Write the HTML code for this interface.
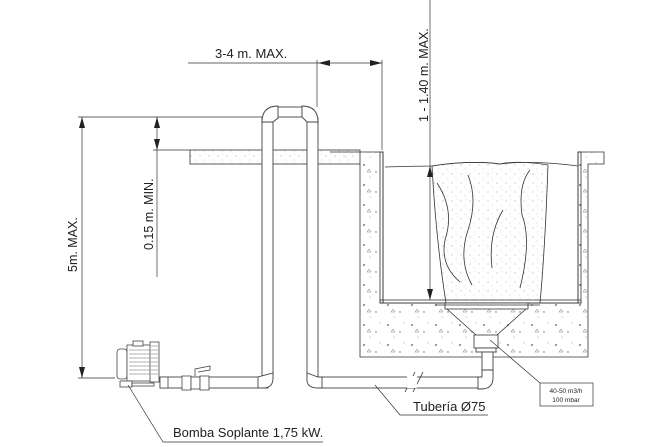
<!DOCTYPE html>
<html><head><meta charset="utf-8"><style>
html,body{margin:0;padding:0;background:#fff;}
svg{display:block;}
text{font-family:"Liberation Sans",sans-serif;fill:#222;}
</style></head><body>
<svg width="669" height="447" viewBox="0 0 669 447" xmlns="http://www.w3.org/2000/svg">
<defs>
<pattern id="dots" width="9" height="9" patternUnits="userSpaceOnUse">
<circle cx="2" cy="3" r="0.5" fill="#888"/><circle cx="6" cy="7" r="0.4" fill="#999"/><circle cx="7" cy="1" r="0.35" fill="#aaa"/>
</pattern>
<pattern id="conc" width="24" height="20" patternUnits="userSpaceOnUse">
<circle cx="4" cy="5" r="0.9" fill="#555"/><circle cx="16" cy="12" r="0.7" fill="#666"/><circle cx="10" cy="17" r="0.5" fill="#888"/><circle cx="20" cy="3" r="0.5" fill="#888"/><path d="M7 12 l2 -3 l2 3z" fill="none" stroke="#777" stroke-width="0.5"/>
</pattern>
</defs>
<g stroke="#333" stroke-width="0.8" fill="none">
<rect x="190" y="150" width="170" height="14" fill="url(#dots)"/>
<line x1="153" y1="150" x2="190" y2="150"/>
<path d="M360 164 L360 357 L588 357 L588 164 L604 164 L604 152 L578 152 L578 303 L383 303 L383 152 L330 152" fill="url(#conc)"/>
<rect x="380" y="152" width="3" height="151" fill="url(#dots)"/>
<rect x="578" y="152" width="3" height="151" fill="url(#dots)"/>
<rect x="380" y="300" width="201" height="3" fill="url(#dots)"/>
<path d="M385 167 Q420 166 432 166 Q470 160 500 164 Q530 160 578 166"/>
<path d="M432 166 Q436 240 446 303 L540 303 Q545 250 548 165 Q520 160 500 164 Q470 160 432 166Z" fill="url(#dots)"/>
<path d="M437 183 Q455 210 445 240 Q440 265 460 282"/>
<path d="M468 175 Q478 200 468 230 Q458 260 472 285"/>
<path d="M503 210 Q488 235 492 268"/>
<path d="M530 170 Q518 185 522 215 Q532 240 520 288"/>
<rect x="445" y="303" width="83" height="6" fill="#fff"/>
<line x1="435" y1="305" x2="540" y2="305"/>
<path d="M447 309 L476 335 M526 309 L497 335"/>
<rect x="474" y="335" width="24" height="13" fill="#fff"/>
<rect x="476" y="348" width="20" height="4" fill="#fff"/>
<g stroke="#444" stroke-width="0.9" fill="#fff">
<rect x="262" y="118" width="11" height="260"/>
<rect x="307" y="118" width="11" height="260"/>
<rect x="278" y="107" width="24" height="10"/>
<path d="M262 122 Q262 106 278 106 L278 118 L273 122Z"/>
<path d="M302 106 Q318 106 318 122 L307 122 L302 117Z"/>
<rect x="160" y="377" width="108" height="11"/>
<path d="M273 373 L273 378 Q273 388 263 388 L258 388 L258 377Z"/>
<rect x="320" y="377" width="163" height="11"/>
<path d="M307 373 L307 380 Q307 388 318 388 L322 388 L322 377 L318 377Z"/>
<rect x="482" y="352" width="11" height="22"/>
<path d="M493 370 L493 378 Q493 389 481 389 L478 389 L478 377 L482 377 L482 370Z"/>
</g>
<path d="M405 392 L415 372 M413 392 L423 372" stroke="#333"/>
<rect x="407" y="376" width="10" height="12" fill="#fff" stroke="none"/>
<g fill="#fff" stroke="#444" stroke-width="0.8">
<rect x="117" y="349" width="10" height="30" rx="3"/>
<rect x="127" y="345" width="25" height="36"/>
<rect x="150" y="342" width="9" height="40"/>
<rect x="133" y="341" width="10" height="5"/>
<rect x="120" y="381" width="12" height="6"/>
<rect x="132" y="383" width="22" height="3"/>
<rect x="160" y="377" width="8" height="11"/>
<rect x="182" y="376" width="9" height="14"/>
<rect x="191" y="377" width="9" height="12"/>
<rect x="200" y="376" width="9" height="14"/>
<path d="M195 376 L195 369 L210 366 L210 370 L198 372"/>
</g>
<g stroke="#666" stroke-width="0.5">
<path d="M129 350h21M129 354h21M129 358h21M129 362h21M129 366h21M129 370h21M129 374h21M151 346h7M151 350h7M151 354h7M151 358h7M151 362h7M151 366h7M151 370h7M151 374h7"/>
</g>
<g stroke="#333" stroke-width="0.7">
<line x1="188" y1="63" x2="382" y2="63"/>
<line x1="382" y1="60" x2="382" y2="150"/>
<line x1="317" y1="60" x2="317" y2="107"/>
<line x1="78" y1="117" x2="262" y2="117"/>
<line x1="78" y1="378" x2="115" y2="378"/>
<line x1="82" y1="117" x2="82" y2="378"/>
<line x1="157" y1="117" x2="157" y2="277"/>
<line x1="430" y1="0" x2="430" y2="300"/>
<path d="M128 385 L163 442 L323 442"/>
<path d="M375 385 L400 415 L488 415"/>
<path d="M490 340 L540 383"/>
<rect x="540" y="383" width="53" height="23" fill="#fff"/>
</g>
</g>
<g fill="#222">
<path d="M318 63 l12 -3 v6z"/>
<path d="M382 63 l-12 -3 v6z"/>
<path d="M82 117 l-3 11 h6z"/>
<path d="M82 378 l-3 -11 h6z"/>
<path d="M157 117 l-3 11 h6z"/>
<path d="M157 150 l-3 -11 h6z"/>
<path d="M430 166 l-3 11 h6z"/>
<path d="M430 300 l-3 -11 h6z"/>
</g>
<text x="215" y="58" font-size="13">3-4 m. MAX.</text>
<text transform="translate(428,122) rotate(-90)" font-size="12.5">1 - 1.40 m. MAX.</text>
<text transform="translate(153,250) rotate(-90)" font-size="12.5">0.15 m. MIN.</text>
<text transform="translate(77,272) rotate(-90)" font-size="12.5">5m. MAX.</text>
<text x="173" y="437" font-size="13">Bomba Soplante 1,75 kW.</text>
<text x="413" y="411" font-size="13">Tubería Ø75</text>
<text x="566" y="393" font-size="6.5" text-anchor="middle">40-50 m3/h</text>
<text x="566" y="402" font-size="6.5" text-anchor="middle">100 mbar</text>
</svg>
</body></html>
